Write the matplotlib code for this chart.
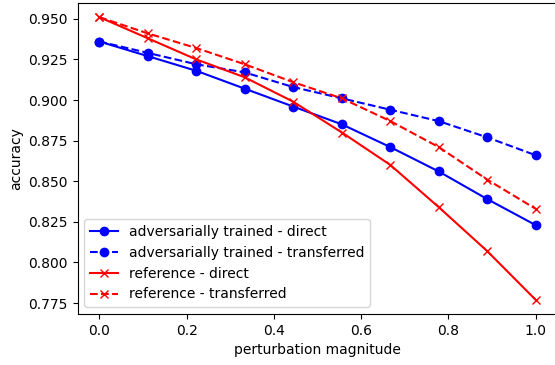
import matplotlib
matplotlib.use("Agg")
import matplotlib.pyplot as plt

x = [0.0, 0.111, 0.222, 0.333, 0.444, 0.556, 0.667, 0.778, 0.889, 1.0]
adv_direct = [0.936, 0.927, 0.918, 0.907, 0.896, 0.885, 0.871, 0.856, 0.839, 0.823]
adv_transferred = [0.936, 0.929, 0.922, 0.917, 0.908, 0.901, 0.894, 0.887, 0.877, 0.866]
ref_direct = [0.951, 0.938, 0.925, 0.914, 0.899, 0.880, 0.860, 0.834, 0.807, 0.777]
ref_transferred = [0.951, 0.941, 0.932, 0.922, 0.911, 0.901, 0.887, 0.871, 0.851, 0.833]

fig = plt.figure(figsize=(5.55, 3.65), dpi=100)
ax = fig.add_axes([77.5/555, 1 - 314/365, 480/555, 311/365])
ax.plot(x, adv_direct, 'b-o', label='adversarially trained - direct')
ax.plot(x, adv_transferred, 'b--o', label='adversarially trained - transferred')
ax.plot(x, ref_direct, 'r-x', label='reference - direct')
ax.plot(x, ref_transferred, 'r--x', label='reference - transferred')
ax.set_xlabel('perturbation magnitude')
ax.set_ylabel('accuracy')
ax.legend(loc='lower left')
fig.savefig('out.png', dpi=100)
